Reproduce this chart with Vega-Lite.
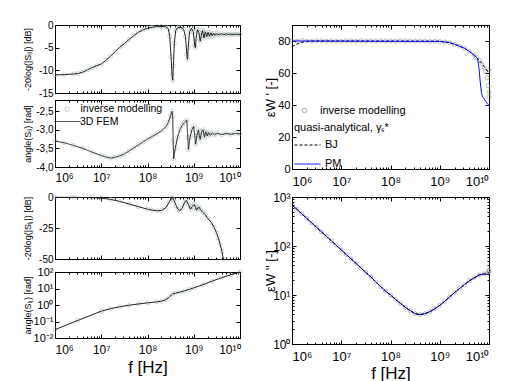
{
"$schema": "https://vega.github.io/schema/vega-lite/v6.json",
"background": "white",
"padding": {"left": 22, "top": 19, "right": 5, "bottom": 5},
"config": {
 "font": "Liberation Sans",
 "view": {"stroke": "black", "strokeWidth": 1},
 "axis": {"grid": false, "domainColor": "black", "tickColor": "black", "labelColor": "black", "titleColor": "black", "labelFont": "Liberation Sans", "titleFont": "Liberation Sans", "titleFontWeight": "normal", "labelFontSize": 10, "domainWidth": 1, "tickWidth": 1},
 "legend": {"labelFont": "Liberation Sans", "titleFont": "Liberation Sans", "labelColor": "black", "titleColor": "black"}
},
"datasets": {
 "s11m": [
  {"f":1e6,"v":-11.0},{"f":1.585e6,"v":-10.95},{"f":2.512e6,"v":-10.8},{"f":3.162e6,"v":-10.7},{"f":3.981e6,"v":-10.4},{"f":5.012e6,"v":-9.9},{"f":6.31e6,"v":-9.4},{"f":7.943e6,"v":-9.0},
  {"f":1e7,"v":-8.6},{"f":1.259e7,"v":-7.8},{"f":1.585e7,"v":-6.9},{"f":1.995e7,"v":-5.9},{"f":2.512e7,"v":-4.9},{"f":3.162e7,"v":-4.1},{"f":3.981e7,"v":-3.2},{"f":5.012e7,"v":-2.4},{"f":6.31e7,"v":-1.6},{"f":7.943e7,"v":-1.1},
  {"f":1e8,"v":-0.7},{"f":1.259e8,"v":-0.5},{"f":1.585e8,"v":-0.35},{"f":1.995e8,"v":-0.3},{"f":2.512e8,"v":-0.4},{"f":2.818e8,"v":-0.8},{"f":3.02e8,"v":-2.5},{"f":3.236e8,"v":-7},{"f":3.388e8,"v":-11},{"f":3.508e8,"v":-12.2},{"f":3.631e8,"v":-9},{"f":3.802e8,"v":-4},{"f":4.074e8,"v":-1.2},{"f":4.467e8,"v":-0.6},{"f":5.248e8,"v":-0.5},{"f":6.026e8,"v":-0.9},{"f":6.607e8,"v":-2.5},{"f":7.079e8,"v":-6.5},{"f":7.328e8,"v":-7.6},{"f":7.586e8,"v":-5},{"f":8.128e8,"v":-1.5},{"f":8.913e8,"v":-0.7},{"f":9.772e8,"v":-1.5},
  {"f":1.047e9,"v":-4.5},{"f":1.084e9,"v":-5.0},{"f":1.122e9,"v":-3},{"f":1.202e9,"v":-1.0},{"f":1.288e9,"v":-1.6},{"f":1.38e9,"v":-3.6},{"f":1.445e9,"v":-2.4},{"f":1.549e9,"v":-1.2},{"f":1.66e9,"v":-2.9},{"f":1.778e9,"v":-1.5},{"f":1.905e9,"v":-2.6},{"f":2.042e9,"v":-1.6},{"f":2.188e9,"v":-2.5},{"f":2.344e9,"v":-1.7},{"f":2.512e9,"v":-2.4},{"f":2.692e9,"v":-1.8},{"f":2.884e9,"v":-2.3},{"f":3.162e9,"v":-1.9},{"f":3.548e9,"v":-2.2},{"f":3.981e9,"v":-1.9},{"f":4.467e9,"v":-2.15},{"f":5.012e9,"v":-1.95},{"f":5.623e9,"v":-2.1},{"f":6.31e9,"v":-2.0},{"f":7.079e9,"v":-2.1},{"f":7.943e9,"v":-2.0},{"f":8.913e9,"v":-2.1},{"f":1e10,"v":-2.05}
 ],
 "s11a": [
  {"f":1e6,"v":-3.30},{"f":1.585e6,"v":-3.35},{"f":2.512e6,"v":-3.42},{"f":3.981e6,"v":-3.50},{"f":6.31e6,"v":-3.60},
  {"f":1e7,"v":-3.69},{"f":1.259e7,"v":-3.73},{"f":1.585e7,"v":-3.76},{"f":1.995e7,"v":-3.74},{"f":2.512e7,"v":-3.70},{"f":3.162e7,"v":-3.65},{"f":3.981e7,"v":-3.57},{"f":5.012e7,"v":-3.49},{"f":6.31e7,"v":-3.41},{"f":7.943e7,"v":-3.33},
  {"f":1e8,"v":-3.25},{"f":1.259e8,"v":-3.18},{"f":1.585e8,"v":-3.11},{"f":1.995e8,"v":-3.03},{"f":2.512e8,"v":-2.92},{"f":2.818e8,"v":-2.80},{"f":3.162e8,"v":-2.62},{"f":3.388e8,"v":-2.50},{"f":3.508e8,"v":-2.65},{"f":3.589e8,"v":-3.3},{"f":3.673e8,"v":-3.78},{"f":3.981e8,"v":-3.5},{"f":4.467e8,"v":-3.2},{"f":5.012e8,"v":-3.0},{"f":5.623e8,"v":-2.88},{"f":6.31e8,"v":-2.8},{"f":7.079e8,"v":-2.74},{"f":7.413e8,"v":-3.2},{"f":7.674e8,"v":-3.53},{"f":8.318e8,"v":-3.2},{"f":9.12e8,"v":-3.0},
  {"f":1e9,"v":-2.9},{"f":1.047e9,"v":-3.15},{"f":1.096e9,"v":-3.39},{"f":1.175e9,"v":-3.15},{"f":1.259e9,"v":-3.0},{"f":1.318e9,"v":-3.15},{"f":1.38e9,"v":-3.26},{"f":1.479e9,"v":-3.05},{"f":1.585e9,"v":-3.0},{"f":1.698e9,"v":-3.2},{"f":1.82e9,"v":-3.05},{"f":1.95e9,"v":-3.17},{"f":2.089e9,"v":-3.07},{"f":2.291e9,"v":-3.15},{"f":2.512e9,"v":-3.08},{"f":2.818e9,"v":-3.14},{"f":3.162e9,"v":-3.09},{"f":3.981e9,"v":-3.13},{"f":5.012e9,"v":-3.10},{"f":6.31e9,"v":-3.12},{"f":7.943e9,"v":-3.10},{"f":1e10,"v":-3.11}
 ],
 "s21m": [
  {"f":1e6,"v":-0.3},{"f":2.512e6,"v":-0.3},{"f":6.31e6,"v":-0.4},{"f":1e7,"v":-0.9},{"f":1.585e7,"v":-1.9},{"f":2.512e7,"v":-3.6},{"f":3.981e7,"v":-5.6},{"f":6.31e7,"v":-7.8},
  {"f":1e8,"v":-9.8},{"f":1.259e8,"v":-10.6},{"f":1.585e8,"v":-11.1},{"f":1.995e8,"v":-10.9},{"f":2.512e8,"v":-8.5},{"f":2.951e8,"v":-4},{"f":3.311e8,"v":-1.0},{"f":3.467e8,"v":-0.6},{"f":3.715e8,"v":-2.5},{"f":4.169e8,"v":-7},{"f":4.571e8,"v":-10},{"f":5.012e8,"v":-11.2},{"f":5.623e8,"v":-9},{"f":6.31e8,"v":-4.5},{"f":6.918e8,"v":-2.7},{"f":7.762e8,"v":-6.5},{"f":8.511e8,"v":-10},{"f":9.333e8,"v":-7.5},
  {"f":1.023e9,"v":-5.9},{"f":1.096e9,"v":-8.5},{"f":1.148e9,"v":-10.7},{"f":1.23e9,"v":-8.8},{"f":1.288e9,"v":-8.0},{"f":1.413e9,"v":-10.5},{"f":1.585e9,"v":-12.5},{"f":1.738e9,"v":-14},{"f":1.995e9,"v":-17},{"f":2.399e9,"v":-20.6},{"f":2.754e9,"v":-24.5},{"f":3.09e9,"v":-28.6},{"f":3.388e9,"v":-33},{"f":3.715e9,"v":-38},{"f":4.074e9,"v":-44},{"f":4.365e9,"v":-50}
 ],
 "s21a": [
  {"f":1e6,"v":0.032},{"f":3.162e6,"v":0.118},{"f":1e7,"v":0.42},{"f":1.585e7,"v":0.60},{"f":2.512e7,"v":0.78},{"f":3.981e7,"v":0.97},{"f":6.31e7,"v":1.15},
  {"f":1e8,"v":1.35},{"f":1.585e8,"v":1.55},{"f":1.995e8,"v":1.7},{"f":2.512e8,"v":2.1},{"f":2.951e8,"v":3.0},{"f":3.467e8,"v":4.6},{"f":3.981e8,"v":5.2},{"f":5.012e8,"v":6.0},{"f":6.31e8,"v":7.2},{"f":7.943e8,"v":8.8},
  {"f":1e9,"v":11},{"f":1.585e9,"v":17},{"f":2.512e9,"v":28},{"f":3.981e9,"v":45},{"f":6.31e9,"v":68},{"f":1e10,"v":100}
 ],
 "epsr_im": [
  {"f":1e6,"v":80.2},{"f":1.259e6,"v":79.9},{"f":1.585e6,"v":80.3},{"f":1.995e6,"v":80.0},{"f":2.512e6,"v":79.8},{"f":3.162e6,"v":80.2},{"f":3.981e6,"v":80.1},{"f":5.012e6,"v":79.9},{"f":6.31e6,"v":80.2},{"f":7.943e6,"v":80.0},
  {"f":1e7,"v":79.8},{"f":1.259e7,"v":80.2},{"f":1.585e7,"v":80.1},{"f":1.995e7,"v":79.9},{"f":2.512e7,"v":80.2},{"f":3.162e7,"v":80.0},{"f":3.981e7,"v":80.1},{"f":5.012e7,"v":79.9},{"f":6.31e7,"v":80.2},{"f":7.943e7,"v":80.0},
  {"f":1e8,"v":80.1},{"f":1.259e8,"v":79.9},{"f":1.585e8,"v":80.2},{"f":1.995e8,"v":80.0},{"f":2.512e8,"v":80.1},{"f":3.162e8,"v":79.9},{"f":3.981e8,"v":80.1},{"f":5.012e8,"v":80.0},{"f":6.31e8,"v":79.7},{"f":7.943e8,"v":79.9},
  {"f":1e9,"v":79.6},{"f":1.259e9,"v":79.4},{"f":1.585e9,"v":78.8},{"f":1.995e9,"v":77.8},{"f":2.512e9,"v":76.8},{"f":3.162e9,"v":75.4},{"f":3.981e9,"v":73.5},{"f":5.012e9,"v":71.2},{"f":5.623e9,"v":69.6},{"f":6.31e9,"v":68},{"f":7.079e9,"v":66},{"f":7.943e9,"v":63.5},{"f":8.511e9,"v":61},{"f":9.12e9,"v":57},{"f":9.55e9,"v":52},{"f":1e10,"v":48},{"f":1e10,"v":62},{"f":1e10,"v":45}
 ],
 "epsr_bj": [
  {"f":1e6,"v":76.5},{"f":1.259e6,"v":78.0},{"f":1.585e6,"v":79.2},{"f":1.995e6,"v":79.8},{"f":3.162e6,"v":80},{"f":1e9,"v":79.8},{"f":1.585e9,"v":79},{"f":1.995e9,"v":78},{"f":3.162e9,"v":75.5},{"f":3.981e9,"v":73.5},{"f":5.012e9,"v":71},{"f":6.31e9,"v":68},{"f":7.943e9,"v":64},{"f":1e10,"v":60}
 ],
 "epsr_pm": [
  {"f":1e6,"v":80},{"f":1e9,"v":79.8},{"f":1.585e9,"v":79},{"f":1.995e9,"v":78},{"f":3.162e9,"v":75.5},{"f":3.981e9,"v":73.5},{"f":5.012e9,"v":71.2},{"f":5.888e9,"v":69},{"f":6.31e9,"v":62},{"f":6.607e9,"v":55},{"f":7.0e9,"v":48},{"f":7.413e9,"v":45},{"f":8.318e9,"v":43},{"f":1e10,"v":39.5}
 ],
 "epsi": [
  {"f":1e6,"v":691.8},{"f":1.259e6,"v":559.8},{"f":1.585e6,"v":452.9},{"f":1.995e6,"v":366.4},{"f":2.512e6,"v":296.5},{"f":3.162e6,"v":239.9},{"f":3.981e6,"v":194.1},{"f":5.012e6,"v":157.0},{"f":6.31e6,"v":127.1},{"f":7.943e6,"v":102.8},
  {"f":1e7,"v":83.2},{"f":1.259e7,"v":67.3},{"f":1.585e7,"v":54.5},{"f":1.995e7,"v":44.1},{"f":2.512e7,"v":35.6},{"f":3.162e7,"v":28.8},{"f":3.981e7,"v":23.4},{"f":5.012e7,"v":18.6},{"f":6.31e7,"v":14.8},{"f":7.943e7,"v":12.0},
  {"f":1e8,"v":10.0},{"f":1.259e8,"v":8.13},{"f":1.585e8,"v":6.76},{"f":1.995e8,"v":5.62},{"f":2.512e8,"v":4.79},{"f":3.162e8,"v":4.17},{"f":3.981e8,"v":3.98},{"f":5.012e8,"v":4.17},{"f":6.31e8,"v":4.57},{"f":7.943e8,"v":5.25},
  {"f":1e9,"v":6.17},{"f":1.259e9,"v":7.41},{"f":1.585e9,"v":9.12},{"f":1.995e9,"v":11.2},{"f":2.512e9,"v":13.5},{"f":3.162e9,"v":16.2},{"f":3.981e9,"v":19.5},{"f":5.012e9,"v":22.4},{"f":6.31e9,"v":25.7},{"f":7.943e9,"v":26.9},{"f":1e10,"v":26.3}
 ],
 "epsi_im": [
  {"f":1e6,"v":691.8},{"f":1.259e6,"v":559.8},{"f":1.585e6,"v":452.9},{"f":1.995e6,"v":366.4},{"f":2.512e6,"v":296.5},{"f":3.162e6,"v":239.9},{"f":3.981e6,"v":194.1},{"f":5.012e6,"v":157.0},{"f":6.31e6,"v":127.1},{"f":7.943e6,"v":102.8},
  {"f":1e7,"v":83.2},{"f":1.259e7,"v":67.3},{"f":1.585e7,"v":54.5},{"f":1.995e7,"v":44.1},{"f":2.512e7,"v":35.6},{"f":3.162e7,"v":28.8},{"f":3.981e7,"v":23.4},{"f":5.012e7,"v":18.6},{"f":6.31e7,"v":14.8},{"f":7.943e7,"v":12.0},
  {"f":1e8,"v":10.0},{"f":1.259e8,"v":8.13},{"f":1.585e8,"v":6.76},{"f":1.995e8,"v":5.62},{"f":2.512e8,"v":4.79},{"f":3.162e8,"v":4.17},{"f":3.981e8,"v":3.98},{"f":5.012e8,"v":4.17},{"f":6.31e8,"v":4.57},{"f":7.943e8,"v":5.25},
  {"f":1e9,"v":6.17},{"f":1.259e9,"v":7.41},{"f":1.585e9,"v":9.12},{"f":1.995e9,"v":11.2},{"f":2.512e9,"v":13.5},{"f":3.162e9,"v":16.2},{"f":3.981e9,"v":19.5},{"f":5.012e9,"v":22.4},{"f":6.31e9,"v":25.7},{"f":7.943e9,"v":26.9},{"f":9.55e9,"v":28.5},{"f":1e10,"v":30.5},{"f":1e10,"v":32}
 ]
},
"resolve": {"scale": {"color": "independent", "shape": "independent", "strokeDash": "independent"}, "legend": {"color": "independent", "shape": "independent", "strokeDash": "independent"}},
"spacing": 18,
"hconcat": [
 {
  "resolve": {"scale": {"color": "independent", "shape": "independent", "strokeDash": "independent"}, "legend": {"color": "independent", "shape": "independent", "strokeDash": "independent"}},
  "spacing": 7,
  "vconcat": [
   {
    "bounds": "flush",
    "spacing": 7,
    "resolve": {"scale": {"color": "independent", "shape": "independent", "strokeDash": "independent"}, "legend": {"color": "independent", "shape": "independent", "strokeDash": "independent"}},
    "vconcat": [
     {
      "width": 185, "height": 68,
      "data": {"name": "s11m"},
      "resolve": {"axis": {"x": "independent", "y": "independent"}},
      "layer": [
       {"mark": {"type": "point", "shape": "circle", "filled": false, "size": 16, "color": "#a3b5b5", "strokeWidth": 0.8},
        "encoding": {
         "x": {"field": "f", "type": "quantitative", "scale": {"type": "log", "domain": [1e6, 1e10], "nice": false},
          "axis": {"orient": "bottom", "title": null, "labels": false, "values": [1e6,2e6,3e6,4e6,5e6,6e6,7e6,8e6,9e6,1e7,2e7,3e7,4e7,5e7,6e7,7e7,8e7,9e7,1e8,2e8,3e8,4e8,5e8,6e8,7e8,8e8,9e8,1e9,2e9,3e9,4e9,5e9,6e9,7e9,8e9,9e9,1e10],
           "tickSize": {"condition": {"test": "abs(log(datum.value)/LN10 - round(log(datum.value)/LN10)) < 0.001", "value": -4}, "value": -2}}},
         "y": {"field": "v", "type": "quantitative", "scale": {"domain": [-15, 0], "nice": false, "zero": false},
          "axis": {"orient": "left", "values": [0, -5, -10, -15], "labelExpr": "datum.value + ''", "title": "-20log(|Sᵢᵢ|) [dB]", "titleFontSize": 9, "titleX": -28, "titleBaseline": "middle", "tickSize": -4, "labelPadding": 6}}}},
       {"mark": {"type": "line", "color": "#222222", "strokeWidth": 1},
        "encoding": {
         "x": {"field": "f", "type": "quantitative", "scale": {"type": "log", "domain": [1e6, 1e10], "nice": false},
          "axis": {"orient": "top", "title": null, "labels": false, "values": [1e6,2e6,3e6,4e6,5e6,6e6,7e6,8e6,9e6,1e7,2e7,3e7,4e7,5e7,6e7,7e7,8e7,9e7,1e8,2e8,3e8,4e8,5e8,6e8,7e8,8e8,9e8,1e9,2e9,3e9,4e9,5e9,6e9,7e9,8e9,9e9,1e10],
           "tickSize": {"condition": {"test": "abs(log(datum.value)/LN10 - round(log(datum.value)/LN10)) < 0.001", "value": -4}, "value": -2}}},
         "y": {"field": "v", "type": "quantitative", "scale": {"domain": [-15, 0], "nice": false, "zero": false},
          "axis": {"orient": "right", "values": [0, -5, -10, -15], "labels": false, "title": null, "tickSize": -4}}}}
      ]
     },
     {
      "width": 185, "height": 67,
      "data": {"name": "s11a"},
      "resolve": {"axis": {"x": "independent", "y": "independent"}},
      "layer": [
       {"mark": {"type": "point", "filled": false, "size": 16, "color": "#a3b5b5", "strokeWidth": 0.8},
        "encoding": {
         "x": {"field": "f", "type": "quantitative", "scale": {"type": "log", "domain": [1e6, 1e10], "nice": false},
          "axis": {"orient": "bottom", "title": null, "values": [1e6,2e6,3e6,4e6,5e6,6e6,7e6,8e6,9e6,1e7,2e7,3e7,4e7,5e7,6e7,7e7,8e7,9e7,1e8,2e8,3e8,4e8,5e8,6e8,7e8,8e8,9e8,1e9,2e9,3e9,4e9,5e9,6e9,7e9,8e9,9e9,1e10],
           "labelExpr": "datum.value == 1e6 ? '10⁶' : datum.value == 1e7 ? '10⁷' : datum.value == 1e8 ? '10⁸' : datum.value == 1e9 ? '10⁹' : datum.value == 1e10 ? '10¹⁰' : ''",
           "labelPadding": 9, "labelFontSize": 12,
           "tickSize": {"condition": {"test": "abs(log(datum.value)/LN10 - round(log(datum.value)/LN10)) < 0.001", "value": -4}, "value": -2}}},
         "y": {"field": "v", "type": "quantitative", "scale": {"domain": [-4, -2.2], "nice": false, "zero": false},
          "axis": {"orient": "left", "values": [-2.5, -3, -3.5, -4], "labelExpr": "replace(replace(format(datum.value, '.1f'), '.', ','), '\u2212', '-')", "title": "angle(Sᵢᵢ) [rad]", "titleFontSize": 9, "titleX": -28, "titleBaseline": "middle", "tickSize": -4, "labelPadding": 6}},
         "shape": {"datum": "inverse modelling", "scale": {"domain": ["inverse modelling"], "range": ["circle"]},
          "legend": {"orient": "none", "legendX": 7, "legendY": 4, "title": null, "padding": 0, "labelFontSize": 10.5, "labelOffset": 8, "symbolSize": 20, "symbolStrokeColor": "#a3b5b5", "symbolFillColor": "transparent", "symbolStrokeWidth": 1}}}},
       {"mark": {"type": "line", "color": "#222222", "strokeWidth": 1},
        "encoding": {
         "x": {"field": "f", "type": "quantitative", "scale": {"type": "log", "domain": [1e6, 1e10], "nice": false},
          "axis": {"orient": "top", "title": null, "labels": false, "values": [1e6,2e6,3e6,4e6,5e6,6e6,7e6,8e6,9e6,1e7,2e7,3e7,4e7,5e7,6e7,7e7,8e7,9e7,1e8,2e8,3e8,4e8,5e8,6e8,7e8,8e8,9e8,1e9,2e9,3e9,4e9,5e9,6e9,7e9,8e9,9e9,1e10],
           "tickSize": {"condition": {"test": "abs(log(datum.value)/LN10 - round(log(datum.value)/LN10)) < 0.001", "value": -4}, "value": -2}}},
         "y": {"field": "v", "type": "quantitative", "scale": {"domain": [-4, -2.2], "nice": false, "zero": false},
          "axis": {"orient": "right", "values": [-2.5, -3, -3.5, -4], "labels": false, "title": null, "tickSize": -4}},
         "strokeDash": {"datum": "3D FEM", "scale": {"domain": ["3D FEM"], "range": [[1, 0]]},
          "legend": {"orient": "none", "legendX": -1, "legendY": 8, "title": null, "padding": 0, "labelFontSize": 10.5, "labelOffset": -1, "symbolType": "stroke", "symbolSize": 676, "symbolStrokeColor": "#222222", "symbolStrokeWidth": 1}}}}
      ]
     }
    ]
   },
   {
    "bounds": "flush",
    "spacing": 13,
    "resolve": {"scale": {"color": "independent", "shape": "independent", "strokeDash": "independent"}, "legend": {"color": "independent", "shape": "independent", "strokeDash": "independent"}},
    "vconcat": [
     {
      "width": 185, "height": 62,
      "data": {"name": "s21m"},
      "resolve": {"axis": {"x": "independent", "y": "independent"}},
      "layer": [
       {"mark": {"type": "point", "shape": "circle", "filled": false, "size": 16, "color": "#a3b5b5", "strokeWidth": 0.8},
        "encoding": {
         "x": {"field": "f", "type": "quantitative", "scale": {"type": "log", "domain": [1e6, 1e10], "nice": false},
          "axis": {"orient": "bottom", "title": null, "labels": false, "values": [1e6,2e6,3e6,4e6,5e6,6e6,7e6,8e6,9e6,1e7,2e7,3e7,4e7,5e7,6e7,7e7,8e7,9e7,1e8,2e8,3e8,4e8,5e8,6e8,7e8,8e8,9e8,1e9,2e9,3e9,4e9,5e9,6e9,7e9,8e9,9e9,1e10],
           "tickSize": {"condition": {"test": "abs(log(datum.value)/LN10 - round(log(datum.value)/LN10)) < 0.001", "value": -4}, "value": -2}}},
         "y": {"field": "v", "type": "quantitative", "scale": {"domain": [-50, 0], "nice": false, "zero": false},
          "axis": {"orient": "left", "values": [0, -25, -50], "labelExpr": "datum.value + ''", "title": "-20log(|Sᵢⱼ|) [dB]", "titleFontSize": 9, "titleX": -28, "titleBaseline": "middle", "tickSize": -4, "labelPadding": 6}}}},
       {"mark": {"type": "line", "color": "#222222", "strokeWidth": 1},
        "encoding": {
         "x": {"field": "f", "type": "quantitative", "scale": {"type": "log", "domain": [1e6, 1e10], "nice": false},
          "axis": {"orient": "top", "title": null, "labels": false, "values": [1e6,2e6,3e6,4e6,5e6,6e6,7e6,8e6,9e6,1e7,2e7,3e7,4e7,5e7,6e7,7e7,8e7,9e7,1e8,2e8,3e8,4e8,5e8,6e8,7e8,8e8,9e8,1e9,2e9,3e9,4e9,5e9,6e9,7e9,8e9,9e9,1e10],
           "tickSize": {"condition": {"test": "abs(log(datum.value)/LN10 - round(log(datum.value)/LN10)) < 0.001", "value": -4}, "value": -2}}},
         "y": {"field": "v", "type": "quantitative", "scale": {"domain": [-50, 0], "nice": false, "zero": false},
          "axis": {"orient": "right", "values": [0, -25, -50], "labels": false, "title": null, "tickSize": -4}}}}
      ]
     },
     {
      "width": 185, "height": 66,
      "data": {"name": "s21a"},
      "resolve": {"axis": {"x": "independent", "y": "independent"}},
      "layer": [
       {"mark": {"type": "point", "shape": "circle", "filled": false, "size": 16, "color": "#a3b5b5", "strokeWidth": 0.8},
        "encoding": {
         "x": {"field": "f", "type": "quantitative", "scale": {"type": "log", "domain": [1e6, 1e10], "nice": false},
          "axis": {"orient": "bottom", "title": "f [Hz]", "titleFontSize": 17, "titlePadding": 4, "values": [1e6,2e6,3e6,4e6,5e6,6e6,7e6,8e6,9e6,1e7,2e7,3e7,4e7,5e7,6e7,7e7,8e7,9e7,1e8,2e8,3e8,4e8,5e8,6e8,7e8,8e8,9e8,1e9,2e9,3e9,4e9,5e9,6e9,7e9,8e9,9e9,1e10],
           "labelExpr": "datum.value == 1e6 ? '10⁶' : datum.value == 1e7 ? '10⁷' : datum.value == 1e8 ? '10⁸' : datum.value == 1e9 ? '10⁹' : datum.value == 1e10 ? '10¹⁰' : ''",
           "labelPadding": 10, "labelFontSize": 12,
           "tickSize": {"condition": {"test": "abs(log(datum.value)/LN10 - round(log(datum.value)/LN10)) < 0.001", "value": -4}, "value": -2}}},
         "y": {"field": "v", "type": "quantitative", "scale": {"type": "log", "domain": [0.01, 100], "nice": false},
          "axis": {"orient": "left", "values": [0.01, 0.1, 1, 10, 100], "labelExpr": "datum.value == 100 ? '10²' : datum.value == 10 ? '10¹' : datum.value == 1 ? '10⁰' : datum.value == 0.1 ? '10⁻¹' : '10⁻²'", "title": "angle(Sᵢⱼ) [rad]", "titleFontSize": 9, "titleX": -28, "titleBaseline": "middle", "tickSize": -4, "labelPadding": 6, "labelFontSize": 11}}}},
       {"mark": {"type": "line", "color": "#222222", "strokeWidth": 1},
        "encoding": {
         "x": {"field": "f", "type": "quantitative", "scale": {"type": "log", "domain": [1e6, 1e10], "nice": false},
          "axis": {"orient": "top", "title": null, "labels": false, "values": [1e6,2e6,3e6,4e6,5e6,6e6,7e6,8e6,9e6,1e7,2e7,3e7,4e7,5e7,6e7,7e7,8e7,9e7,1e8,2e8,3e8,4e8,5e8,6e8,7e8,8e8,9e8,1e9,2e9,3e9,4e9,5e9,6e9,7e9,8e9,9e9,1e10],
           "tickSize": {"condition": {"test": "abs(log(datum.value)/LN10 - round(log(datum.value)/LN10)) < 0.001", "value": -4}, "value": -2}}},
         "y": {"field": "v", "type": "quantitative", "scale": {"type": "log", "domain": [0.01, 100], "nice": false},
          "axis": {"orient": "right", "values": [0.01, 0.1, 1, 10, 100], "labels": false, "title": null, "tickSize": -4}}}}
      ]
     }
    ]
   }
  ]
 },
 {
  "bounds": "flush",
  "spacing": 28,
  "resolve": {"scale": {"color": "independent", "shape": "independent", "strokeDash": "independent"}, "legend": {"color": "independent", "shape": "independent", "strokeDash": "independent"}},
  "vconcat": [
   {
    "width": 197, "height": 144,
    "resolve": {"axis": {"x": "independent", "y": "independent"}},
    "layer": [
     {"data": {"name": "epsr_im"}, "mark": {"type": "point", "filled": false, "size": 16, "color": "#8a8a8a", "strokeWidth": 0.8},
      "encoding": {
       "x": {"field": "f", "type": "quantitative", "scale": {"type": "log", "domain": [1e6, 1e10], "nice": false},
        "axis": {"orient": "bottom", "title": null, "values": [1e6,2e6,3e6,4e6,5e6,6e6,7e6,8e6,9e6,1e7,2e7,3e7,4e7,5e7,6e7,7e7,8e7,9e7,1e8,2e8,3e8,4e8,5e8,6e8,7e8,8e8,9e8,1e9,2e9,3e9,4e9,5e9,6e9,7e9,8e9,9e9,1e10],
         "labelExpr": "datum.value == 1e6 ? '10⁶' : datum.value == 1e7 ? '10⁷' : datum.value == 1e8 ? '10⁸' : datum.value == 1e9 ? '10⁹' : datum.value == 1e10 ? '10¹⁰' : ''",
         "labelPadding": 10, "labelFontSize": 13,
         "tickSize": {"condition": {"test": "abs(log(datum.value)/LN10 - round(log(datum.value)/LN10)) < 0.001", "value": -4}, "value": -2}}},
       "y": {"field": "v", "type": "quantitative", "scale": {"domain": [0, 90], "nice": false, "zero": false},
        "axis": {"orient": "left", "values": [0, 20, 40, 60, 80, 90], "labelExpr": "datum.value == 90 ? ' ' : datum.value + ''", "title": "εW ' [-]", "titleFontSize": 13, "titleX": -22, "titleBaseline": "middle", "tickSize": -4, "labelPadding": 6, "labelFontSize": 11}},
       "shape": {"datum": "inverse modelling", "scale": {"domain": ["inverse modelling"], "range": ["circle"]},
        "legend": {"orient": "none", "legendX": 7, "legendY": 80, "title": null, "padding": 0, "labelFontSize": 11, "labelOffset": 10, "symbolSize": 20, "symbolStrokeColor": "#8a8a8a", "symbolFillColor": "transparent", "symbolStrokeWidth": 1}}}},
     {"data": {"name": "epsr_bj"}, "mark": {"type": "line", "strokeWidth": 1},
      "encoding": {
       "x": {"field": "f", "type": "quantitative", "scale": {"type": "log", "domain": [1e6, 1e10], "nice": false},
        "axis": {"orient": "top", "title": null, "labels": false, "values": [1e6,2e6,3e6,4e6,5e6,6e6,7e6,8e6,9e6,1e7,2e7,3e7,4e7,5e7,6e7,7e7,8e7,9e7,1e8,2e8,3e8,4e8,5e8,6e8,7e8,8e8,9e8,1e9,2e9,3e9,4e9,5e9,6e9,7e9,8e9,9e9,1e10],
         "tickSize": {"condition": {"test": "abs(log(datum.value)/LN10 - round(log(datum.value)/LN10)) < 0.001", "value": -4}, "value": -2}}},
       "y": {"field": "v", "type": "quantitative", "scale": {"domain": [0, 90], "nice": false, "zero": false},
        "axis": {"orient": "right", "values": [0, 20, 40, 60, 80], "labels": false, "title": null, "tickSize": -4}},
       "color": {"datum": "BJ", "scale": {"domain": ["BJ", "PM"], "range": ["#000000", "#0000ff"]},
        "legend": {"orient": "none", "legendX": 2, "legendY": 97, "title": "quasi-analytical, γₛ*", "titleFontWeight": "normal", "titleFontSize": 11, "titlePadding": -1.5, "padding": 0, "labelFontSize": 11, "labelOffset": 4, "rowPadding": -15, "symbolType": "stroke", "symbolSize": 676, "symbolStrokeWidth": 1}},
       "strokeDash": {"datum": "BJ", "scale": {"domain": ["BJ", "PM"], "range": [[3, 2], [1, 0]]},
        "legend": {"orient": "none", "legendX": 2, "legendY": 97, "title": "quasi-analytical, γₛ*", "titleFontWeight": "normal", "titleFontSize": 11, "titlePadding": -1.5, "padding": 0, "labelFontSize": 11, "labelOffset": 4, "rowPadding": -15, "symbolType": "stroke", "symbolSize": 676, "symbolStrokeWidth": 1}}}},
     {"data": {"name": "epsr_pm"}, "mark": {"type": "line", "strokeWidth": 1},
      "encoding": {
       "x": {"field": "f", "type": "quantitative", "scale": {"type": "log", "domain": [1e6, 1e10], "nice": false}, "axis": null},
       "y": {"field": "v", "type": "quantitative", "scale": {"domain": [0, 90], "nice": false, "zero": false}, "axis": null},
       "color": {"datum": "PM"},
       "strokeDash": {"datum": "PM"}}},
     {"mark": {"type": "rule", "color": "black", "strokeWidth": 2},
      "encoding": {"y": {"datum": 90, "type": "quantitative", "axis": null}}}
    ]
   },
   {
    "width": 197, "height": 147,
    "resolve": {"axis": {"x": "independent", "y": "independent"}},
    "layer": [
     {"data": {"name": "epsi_im"}, "mark": {"type": "point", "shape": "circle", "filled": false, "size": 16, "color": "#8a8a8a", "strokeWidth": 0.8},
      "encoding": {
       "x": {"field": "f", "type": "quantitative", "scale": {"type": "log", "domain": [1e6, 1e10], "nice": false},
        "axis": {"orient": "bottom", "title": "f [Hz]", "titleFontSize": 17, "titlePadding": 2, "values": [1e6,2e6,3e6,4e6,5e6,6e6,7e6,8e6,9e6,1e7,2e7,3e7,4e7,5e7,6e7,7e7,8e7,9e7,1e8,2e8,3e8,4e8,5e8,6e8,7e8,8e8,9e8,1e9,2e9,3e9,4e9,5e9,6e9,7e9,8e9,9e9,1e10],
         "labelExpr": "datum.value == 1e6 ? '10⁶' : datum.value == 1e7 ? '10⁷' : datum.value == 1e8 ? '10⁸' : datum.value == 1e9 ? '10⁹' : datum.value == 1e10 ? '10¹⁰' : ''",
         "labelPadding": 10, "labelFontSize": 13,
         "tickSize": {"condition": {"test": "abs(log(datum.value)/LN10 - round(log(datum.value)/LN10)) < 0.001", "value": -4}, "value": -2}}},
       "y": {"field": "v", "type": "quantitative", "scale": {"type": "log", "domain": [1, 1000], "nice": false},
        "axis": {"orient": "left", "values": [1,2,3,4,5,6,7,8,9,10,20,30,40,50,60,70,80,90,100,200,300,400,500,600,700,800,900,1000],
         "labelExpr": "datum.value == 1000 ? '10³' : datum.value == 100 ? '10²' : datum.value == 10 ? '10¹' : datum.value == 1 ? '10⁰' : ''",
         "title": "εW '' [-]", "titleFontSize": 13, "titleX": -22, "titleBaseline": "middle", "labelPadding": 6, "labelFontSize": 12,
         "tickSize": {"condition": {"test": "abs(log(datum.value)/LN10 - round(log(datum.value)/LN10)) < 0.001", "value": -4}, "value": -2}}}}},
     {"data": {"name": "epsi"}, "mark": {"type": "line", "color": "#0000ff", "strokeWidth": 1},
      "encoding": {
       "x": {"field": "f", "type": "quantitative", "scale": {"type": "log", "domain": [1e6, 1e10], "nice": false},
        "axis": {"orient": "top", "title": null, "labels": false, "values": [1e6,2e6,3e6,4e6,5e6,6e6,7e6,8e6,9e6,1e7,2e7,3e7,4e7,5e7,6e7,7e7,8e7,9e7,1e8,2e8,3e8,4e8,5e8,6e8,7e8,8e8,9e8,1e9,2e9,3e9,4e9,5e9,6e9,7e9,8e9,9e9,1e10],
         "tickSize": {"condition": {"test": "abs(log(datum.value)/LN10 - round(log(datum.value)/LN10)) < 0.001", "value": -4}, "value": -2}}},
       "y": {"field": "v", "type": "quantitative", "scale": {"type": "log", "domain": [1, 1000], "nice": false},
        "axis": {"orient": "right", "values": [1,2,3,4,5,6,7,8,9,10,20,30,40,50,60,70,80,90,100,200,300,400,500,600,700,800,900,1000], "labels": false, "title": null,
         "tickSize": {"condition": {"test": "abs(log(datum.value)/LN10 - round(log(datum.value)/LN10)) < 0.001", "value": -4}, "value": -2}}}}},
     {"data": {"name": "epsi"}, "mark": {"type": "line", "color": "#000000", "strokeWidth": 1, "strokeDash": [3, 2]},
      "encoding": {
       "x": {"field": "f", "type": "quantitative", "scale": {"type": "log", "domain": [1e6, 1e10], "nice": false}, "axis": null},
       "y": {"field": "v", "type": "quantitative", "scale": {"type": "log", "domain": [1, 1000], "nice": false}, "axis": null}}}
    ]
   }
  ]
 }
]
}
